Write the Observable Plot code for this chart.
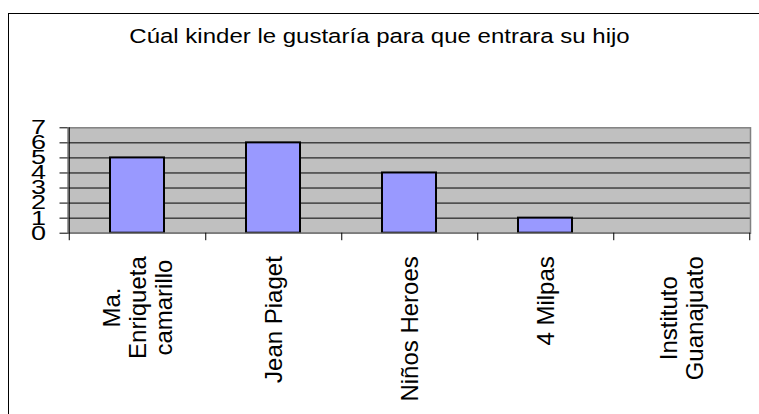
<!DOCTYPE html>
<html>
<head>
<meta charset="utf-8">
<script src="https://cdn.jsdelivr.net/npm/d3@7"></script>
<script src="https://cdn.jsdelivr.net/npm/@observablehq/plot@0.6"></script>
<style>
  body { margin: 0; background: #fff; }
  #wrap { position: relative; width: 759px; height: 414px; overflow: hidden; }
  #border { position: absolute; left: 8px; top: 13px; width: 900px; height: 500px;
            border-left: 1px solid #000; border-top: 1px solid #000; pointer-events: none; }
  #title { height: 60px; width: 759px; position: relative; }
  #title span { position: absolute; left: 0; top: 24px; width: 759px; text-align: center;
            font: 24px/24px "Liberation Sans", Arial, sans-serif; color: #000;
            transform: scaleY(0.88); white-space: nowrap; }
  #chart svg { display: block; }
</style>
</head>
<body>
<div id="wrap">
  <div id="title"><span></span></div>
  <div id="chart"></div>
  <div id="border"></div>
</div>
<script>
const title = "Cúal kinder le gustaría para que entrara su hijo";
const categories = ["Ma. Enriqueta camarillo", "Jean Piaget", "Niños Heroes", "4 Milpas", "Instituto Guanajuato"];
const tickLabels = ["Ma.\nEnriqueta\ncamarillo", "Jean Piaget", "Niños Heroes", "4 Milpas", "Instituto\nGuanajuato"];
const values = [5, 6, 4, 1, 0];
const yTicks = [0, 1, 2, 3, 4, 5, 6, 7];

document.querySelector("#title span").textContent = title;

const FONT = '"Liberation Sans", Arial, sans-serif';
const W = 759, H = 354, ML = 67.5, MR = 9, MT = 67.3, MB = 181.3;
const step = (W - ML - MR) / categories.length;
const data = categories.map((c, i) => ({category: c, value: values[i], label: tickLabels[i]}));

const ctx = document.createElement("canvas").getContext("2d");
ctx.font = `24px ${FONT}`;
const labelW = l => Math.max(...l.split("\n").map(s => ctx.measureText(s).width));

const chart = Plot.plot({
  width: W, height: H,
  marginLeft: ML, marginRight: MR, marginTop: MT, marginBottom: MB,
  style: {fontFamily: FONT, fontSize: "20px", background: "transparent", color: "#000"},
  x: {type: "band", domain: categories, paddingInner: 0.6, paddingOuter: 0.3, align: 0.5, axis: null},
  y: {domain: [0, 7], axis: null},
  marks: [
    Plot.frame({fill: "#c0c0c0", stroke: "none"}),
    Plot.ruleY(yTicks.filter(v => v < 7), {stroke: "#000", strokeWidth: 1}),
    Plot.barY(data, {x: "category", y: "value", fill: "#9999ff", stroke: "#000", strokeWidth: 2}),
    Plot.frame({stroke: "#808080", strokeWidth: 1.5}),
    Plot.ruleX([categories[0]], {x: d => d, dx: -step / 2, y1: 7, y2: -0.5, stroke: "#000", strokeWidth: 1}),
    Plot.ruleX(categories, {x: d => d, dx: step / 2, y1: 0, y2: -0.5, stroke: "#000", strokeWidth: 1}),
    Plot.axisY({ticks: yTicks, label: null, tickSize: 8, tickPadding: 14, fontSize: 20, stroke: "#000", fill: "#000", tickFormat: d => String(d)}),
    ...data.map(d => Plot.text([d], {
      x: "category", frameAnchor: "bottom", text: "label",
      rotate: -90, textAnchor: "middle", lineAnchor: "middle", lineHeight: 1.1,
      fontSize: 24, fontFamily: FONT, fill: "#000",
      dy: 23 + labelW(d.label) / 2
    }))
  ]
});

d3.select(chart).selectAll('g[aria-label="y-axis tick label"] text')
  .attr("textLength", 15).attr("lengthAdjust", "spacingAndGlyphs");

document.getElementById("chart").appendChild(chart);
</script>
</body>
</html>
